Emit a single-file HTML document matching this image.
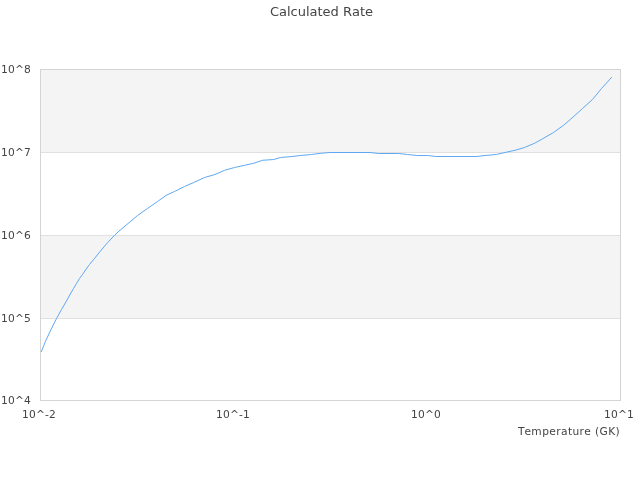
<!DOCTYPE html>
<html><head><meta charset="utf-8"><title>Calculated Rate</title>
<style>
html,body{margin:0;padding:0;background:#fff;}
svg{display:block;}
text{font-family:"DejaVu Sans","Liberation Sans",sans-serif;font-size:10.67px;fill:#444;font-kerning:none;}
</style></head><body>
<svg width="640" height="480" viewBox="0 0 640 480">
<rect x="0" y="0" width="640" height="480" fill="#fff"/>
<g shape-rendering="crispEdges">
<rect x="40" y="69" width="581" height="83" fill="#f4f4f4"/>
<rect x="40" y="235" width="581" height="83" fill="#f4f4f4"/>
<rect x="40" y="152" width="581" height="1" fill="#e0e0e0"/>
<rect x="40" y="235" width="581" height="1" fill="#e0e0e0"/>
<rect x="40" y="318" width="581" height="1" fill="#e0e0e0"/>
<rect x="40.5" y="69.5" width="580" height="331" fill="none" stroke="#d4d4d4" stroke-width="1"/>
</g>
<polyline points="41.2,352 45.5,341.25 50.8,330 56.5,318.5 61.5,309.5 67.0,300 70.3,294.0 73.5,288.5 76.5,283.5 79.5,278.5 82.5,274.5 85.5,270 89.5,264.5 94.5,258.5 99.5,252.2 105.5,245.0 107.5,242.8 114.5,235.3 118.9,231.2 137.5,215.5 147.5,208.5 157.5,201.5 166.25,195.3 174.5,191.5 184.5,186.5 193.75,182.5 204.5,177.5 215,174.5 224.5,170.3 234.5,167.5 244.5,165.3 253.75,163.25 262.5,160.3 273.75,159.5 280.5,157.5 291.9,156.5 300.3,155.5 311.25,154.5 321.25,153.25 330,152.5 370,152.5 378.75,153.5 398.75,153.5 407.5,154.5 417.5,155.5 427.5,155.5 436.25,156.5 476.9,156.5 485,155.5 496.25,154.5 505,152.5 515,150.3 524.5,147.5 534.7,143.2 543.1,138.5 553.5,132.5 563.5,125.3 570.3,119.5 582.5,108.5 592.5,99.5 601.5,88.5 611.8,77.15" fill="none" stroke="#60a8f3" stroke-width="1"/>
<text x="321.5" y="16" text-anchor="middle" style="font-size:13px">Calculated Rate</text>
<text x="1 8 15 24" y="73">10^8</text>
<text x="1 8 15 24" y="156">10^7</text>
<text x="1 8 15 24" y="239">10^6</text>
<text x="1 8 15 24" y="322">10^5</text>
<text x="1 8 15 24" y="404">10^4</text>
<text x="22 29 36 45 49" y="418">10^-2</text>
<text x="216 223 230 239 243" y="418">10^-1</text>
<text x="411 418 425 434" y="418">10^0</text>
<text x="604 611 618 627" y="418">10^1</text>
<text x="518" y="435" style="letter-spacing:0.38px">T<tspan dx="-0.45">emperature (GK)</tspan></text>
</svg>
</body></html>
